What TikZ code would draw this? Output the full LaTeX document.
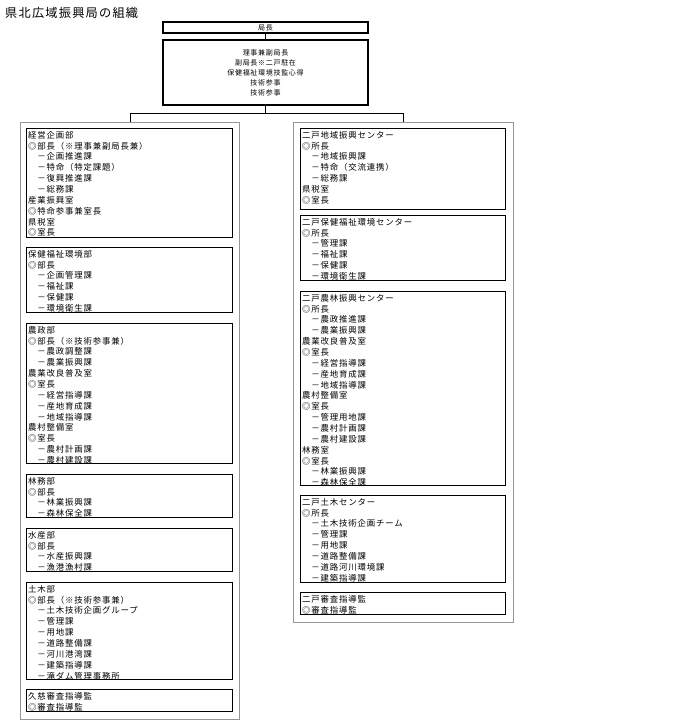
\documentclass[tikz,border=0pt]{standalone}
\usepackage{fontspec}
\newfontfamily\jpfont{Noto Sans CJK JP}
\newfontfamily\jpwide[LetterSpace=10]{Noto Sans CJK JP}
\usetikzlibrary{calc}
\definecolor{framegray}{RGB}{150,150,150}
\newcommand{\bodyfont}{\jpwide\fontsize{8.4}{10.85}\selectfont}
\newcommand{\headfont}{\jpwide\fontsize{7}{10}\selectfont}

\begin{document}
\begin{tikzpicture}[x=1pt, y=-1pt,
    unit/.style={draw, line width=1.3pt, anchor=north west, inner sep=0pt},
    unittext/.style={anchor=north west, inner sep=0pt, align=left, font=\bodyfont},
    area/.style={draw=framegray, line width=1.4pt, anchor=north west, inner sep=0pt},
    chief/.style={draw, line width=1.3pt, inner sep=0pt, align=center, font=\headfont}]
    \useasboundingbox (0,0) rectangle (690,727);

    % Title
    \node[anchor=base west, inner sep=0pt, font=\jpwide\fontsize{12.2}{14}\selectfont] (title) at (5,18) {県北広域振興局の組織};

    % Director and deputies
    \node[chief, minimum width=205pt, minimum height=11pt] (kyokucho) at (265.5,27.5) {局長};
    \node[chief, minimum width=205pt, minimum height=65pt] (fuku) at (265.5,72.5)
        {理事兼副局長\\副局長※二戸駐在\\保健福祉環境技監心得\\技術参事\\技術参事};

    % Outer areas
    \node[area, minimum width=219pt, minimum height=597pt] (honkyoku) at (20,122) {};
    \node[area, minimum width=220pt, minimum height=500pt] (ninohe) at (293,122) {};

    % Lines
    \draw[line width=1pt] (kyokucho) -- (fuku);
    \draw[line width=1pt] (fuku.south) -- ++(0,8) coordinate (branch);
    \draw[line width=1pt] (honkyoku.north) |- (branch) -| (ninohe.north);

    % Left column
    \node[unit, minimum width=206pt, minimum height=109pt] (kikaku) at (26,128) {};
    \node[unittext] (kikakutext) at ($(kikaku.north west)+(2,3)$)
        {経営企画部\\◎部長（※理事兼副局長兼）\\　－企画推進課\\　－特命（特定課題）\\　－復興推進課\\　－総務課\\産業振興室\\◎特命参事兼室長\\県税室\\◎室長};

    \node[unit, minimum width=206pt, minimum height=65pt] (hoken) at (26,247) {};
    \node[unittext] (hokentext) at ($(hoken.north west)+(2,3)$)
        {保健福祉環境部\\◎部長\\　－企画管理課\\　－福祉課\\　－保健課\\　－環境衛生課};

    \node[unit, minimum width=206pt, minimum height=140pt] (nousei) at (26,323) {};
    \node[unittext] (nouseitext) at ($(nousei.north west)+(2,3)$)
        {農政部\\◎部長（※技術参事兼）\\　－農政調整課\\　－農業振興課\\農業改良普及室\\◎室長\\　－経営指導課\\　－産地育成課\\　－地域指導課\\農村整備室\\◎室長\\　－農村計画課\\　－農村建設課};

    \node[unit, minimum width=206pt, minimum height=43pt] (rinmu) at (26,474) {};
    \node[unittext] (rinmutext) at ($(rinmu.north west)+(2,3)$)
        {林務部\\◎部長\\　－林業振興課\\　－森林保全課};

    \node[unit, minimum width=206pt, minimum height=43pt] (suisan) at (26,528) {};
    \node[unittext] (suisantext) at ($(suisan.north west)+(2,3)$)
        {水産部\\◎部長\\　－水産振興課\\　－漁港漁村課};

    \node[unit, minimum width=206pt, minimum height=97pt] (doboku) at (26,582) {};
    \node[unittext] (dobokutext) at ($(doboku.north west)+(2,3)$)
        {土木部\\◎部長（※技術参事兼）\\　－土木技術企画グループ\\　－管理課\\　－用地課\\　－道路整備課\\　－河川港湾課\\　－建築指導課\\　－滝ダム管理事務所};

    \node[unit, minimum width=206pt, minimum height=22pt] (kuji) at (26,689) {};
    \node[unittext] (kujitext) at ($(kuji.north west)+(2,3)$)
        {久慈審査指導監\\◎審査指導監};

    % Right column
    \node[unit, minimum width=205pt, minimum height=81pt] (chiiki) at (300,128) {};
    \node[unittext] (chiikitext) at ($(chiiki.north west)+(2,3)$)
        {二戸地域振興センター\\◎所長\\　－地域振興課\\　－特命（交流連携）\\　－総務課\\県税室\\◎室長};

    \node[unit, minimum width=205pt, minimum height=65pt] (hokenc) at (300,215) {};
    \node[unittext] (hokenctext) at ($(hokenc.north west)+(2,3)$)
        {二戸保健福祉環境センター\\◎所長\\　－管理課\\　－福祉課\\　－保健課\\　－環境衛生課};

    \node[unit, minimum width=205pt, minimum height=194pt] (nourin) at (300,291) {};
    \node[unittext] (nourintext) at ($(nourin.north west)+(2,3)$)
        {二戸農林振興センター\\◎所長\\　－農政推進課\\　－農業振興課\\農業改良普及室\\◎室長\\　－経営指導課\\　－産地育成課\\　－地域指導課\\農村整備室\\◎室長\\　－管理用地課\\　－農村計画課\\　－農村建設課\\林務室\\◎室長\\　－林業振興課\\　－森林保全課};

    \node[unit, minimum width=205pt, minimum height=87pt] (dobokuc) at (300,495) {};
    \node[unittext] (dobokuctext) at ($(dobokuc.north west)+(2,3)$)
        {二戸土木センター\\◎所長\\　－土木技術企画チーム\\　－管理課\\　－用地課\\　－道路整備課\\　－道路河川環境課\\　－建築指導課};

    \node[unit, minimum width=205pt, minimum height=22pt] (shinsa) at (300,592) {};
    \node[unittext] (shinsatext) at ($(shinsa.north west)+(2,3)$)
        {二戸審査指導監\\◎審査指導監};
\end{tikzpicture}
\end{document}
